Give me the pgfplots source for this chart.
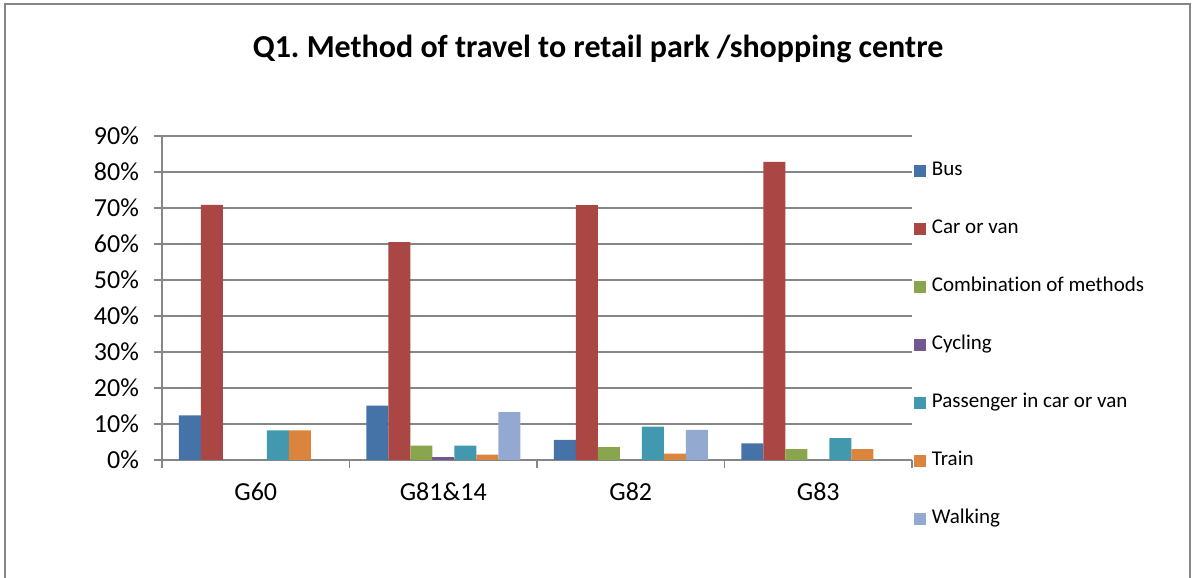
\documentclass[border=0pt]{standalone}
\usepackage{pgfplots}
\pgfplotsset{compat=1.18}
\usepackage{fontspec}
\setmainfont{Carlito}[Ligatures={NoCommon}]
\frenchspacing
\definecolor{cBus}{HTML}{4572A7}
\definecolor{cCar}{HTML}{AA4643}
\definecolor{cComb}{HTML}{89A54E}
\definecolor{cCyc}{HTML}{71588F}
\definecolor{cPass}{HTML}{4198AF}
\definecolor{cTrain}{HTML}{DB843D}
\definecolor{cWalk}{HTML}{93A9CF}
\definecolor{gridc}{HTML}{868686}
\begin{document}
\begin{tikzpicture}
\useasboundingbox (0,0) rectangle (597.5pt,289pt);
\draw[gridc,line width=0.6pt] (2.5pt,-2pt) -- (2.5pt,287pt) -- (595pt,287pt) -- (595pt,-2pt);
\node[font=\bfseries\fontsize{16}{19}\selectfont,anchor=base] at (299pt,260pt) {Q1. Method of travel to retail park /shopping centre};
\begin{axis}[
  at={(81pt,59pt)}, anchor=south west,
  scale only axis, width=375pt, height=162pt,
  ybar=0pt, bar width=11pt,
  xmin=-0.5, xmax=3.5, ymin=0, ymax=90,
  axis x line*=bottom, axis y line*=left,
  axis line style={gridc,line width=0.75pt,-},
  xtick={0,1,2,3}, xticklabels={G60,G81\&14,G82,G83},
  minor xtick={-0.5,0.5,1.5,2.5,3.5},
  ytick={0,10,...,90},
  yticklabel={\pgfmathprintnumber{\tick}\%},
  /pgf/number format/assume math mode=true,
  tick align=outside,
  major x tick style={draw=none},
  minor x tick style={gridc,line width=0.75pt},
  minor tick length=4pt,
  major tick length=4pt,
  y tick style={gridc,line width=0.75pt},
  ymajorgrids, major grid style={gridc,line width=0.75pt},
  tick label style={font=\fontsize{13}{15}\selectfont},
  yticklabel style={xshift=-4pt},
  xticklabel style={yshift=-4pt},
  legend image code/.code={\fill[#1] (0pt,-3pt) rectangle (6pt,3pt);},
  legend style={at={(0.994,0.941)}, anchor=north west, draw=none, fill=none,
    font=\fontsize{10.5}{12}\selectfont, row sep=18pt,
    nodes={inner sep=0pt, text height=8pt, text depth=3pt},
    /tikz/every odd column/.append style={column sep=3pt}},
  legend cell align=left,
]
\addplot[fill=cBus,draw=none] coordinates {(0,12.4) (1,15.1) (2,5.6) (3,4.6)};
\addplot[fill=cCar,draw=none] coordinates {(0,70.9) (1,60.5) (2,70.8) (3,82.8)};
\addplot[fill=cComb,draw=none] coordinates {(1,4.0) (2,3.6) (3,3.0)};
\addplot[fill=cCyc,draw=none] coordinates {(1,0.7)};
\addplot[fill=cPass,draw=none] coordinates {(0,8.2) (1,4.0) (2,9.3) (3,6.1)};
\addplot[fill=cTrain,draw=none] coordinates {(0,8.2) (1,1.5) (2,1.8) (3,3.0)};
\addplot[fill=cWalk,draw=none] coordinates {(1,13.3) (2,8.4)};
\legend{Bus,Car or van,Combination of methods,Cycling,Passenger in car or van,Train,Walking}
\end{axis}
\end{tikzpicture}
\end{document}
